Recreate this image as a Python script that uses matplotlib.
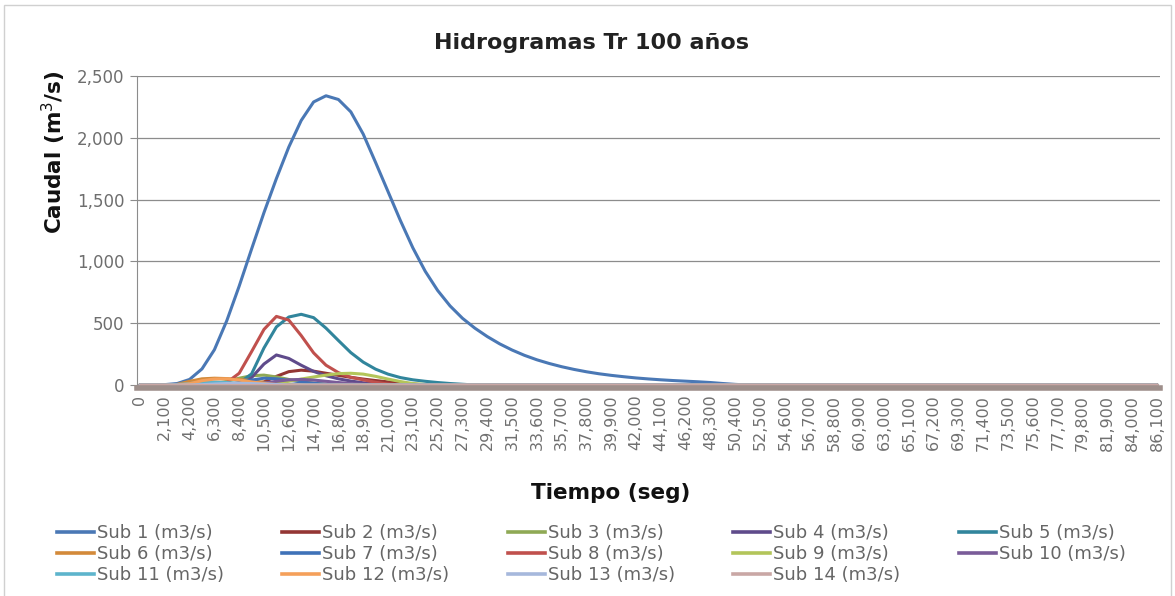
import numpy as np
import matplotlib
matplotlib.use("Agg")
import matplotlib.pyplot as plt
from matplotlib.lines import Line2D
from matplotlib.patches import Rectangle

plt.rcParams['font.family'] = ['DejaVu Sans']

# time step of the hydrographs (s), axis runs to 86,100 s
dt = 1050
t_end = 86100
tiempo = np.arange(0, t_end + 1, dt)
tick_vals = np.arange(0, t_end + 1, 2100)

# caudales (m3/s), starting at t = 0, every 1050 s
sub1 = [0, 0, 3, 12, 45, 130, 285, 520, 800, 1100,
        1395, 1670, 1925, 2140, 2290, 2340, 2310, 2210, 2030, 1800,
        1565, 1330, 1110, 920, 765, 640, 540, 460, 392, 333,
        283, 240, 204, 174, 148, 126, 107, 91, 78, 67,
        57, 49, 42, 36, 31, 26, 20, 12, 5, 0]
sub2 = [0, 0, 0, 0, 0, 0, 0, 0, 0, 5, 25, 70, 108, 120, 112, 95, 78, 62,
        48, 36, 25, 15, 8, 0]
sub3 = [0, 0, 0, 0, 0, 0, 10, 30, 55, 75, 80, 65, 45, 28, 15, 6, 0]
sub4 = [0, 0, 0, 0, 0, 0, 0, 0, 10, 60, 170, 243, 215, 160, 110, 75, 50,
        32, 18, 8, 0]
sub5 = [0, 0, 0, 0, 0, 0, 0, 0, 15, 90, 300, 470, 550, 572, 545, 460, 360,
        262, 185, 128, 88, 60, 42, 30, 20, 12, 6, 0]
sub6 = [0, 0, 0, 5, 30, 50, 55, 52, 45, 35, 22, 12, 5, 0]
sub7 = [0, 0, 0, 0, 0, 0, 0, 5, 20, 40, 55, 50, 38, 25, 14, 6, 0]
sub8 = [0, 0, 0, 0, 0, 0, 0, 20, 95, 270, 450, 555, 525, 400, 260, 160,
        100, 62, 42, 22, 8, 0]
sub9 = [0, 0, 0, 0, 0, 0, 0, 0, 0, 0, 5, 15, 30, 48, 65, 80, 92, 95, 88,
        70, 48, 28, 12, 4, 0]
sub10 = [0, 0, 0, 0, 0, 0, 0, 0, 0, 5, 15, 30, 42, 45, 40, 30, 20, 12, 5, 0]
sub11 = [0, 0, 0, 3, 12, 22, 25, 20, 12, 5, 0]
sub12 = [0, 0, 0, 0, 10, 35, 48, 50, 40, 25, 12, 4, 0]
sub13 = [0, 0, 0, 0, 0, 3, 8, 12, 14, 12, 8, 4, 0]
sub14 = [0]

series = [sub1, sub2, sub3, sub4, sub5, sub6, sub7, sub8, sub9, sub10,
          sub11, sub12, sub13, sub14]
labels = ["Sub %d (m3/s)" % (i + 1) for i in range(14)]
colors = ["#4a78b5", "#943634", "#8fa955", "#5f4b8b", "#31859c", "#d38a3a",
          "#3f72b8", "#c0504d", "#b3c55a", "#7a5c99", "#5db4cc", "#f5a05a",
          "#a6b8dc", "#c9a7a5"]


def pad(vals):
    # rest of the record is zero flow
    return np.array(vals + [0] * (len(tiempo) - len(vals)), dtype=float)


fig = plt.figure(figsize=(11.75, 5.96), dpi=100)
fig.patches.append(Rectangle((4 / 1175, -0.01), 1167 / 1175, 1 - 5 / 596 + 0.01,
                             transform=fig.transFigure, fill=False,
                             edgecolor="#d0d0d0", lw=1))

ax = fig.add_axes([137 / 1175, 1 - 385 / 596, 1023 / 1175, 309 / 596])
for s in ["top", "right"]:
    ax.spines[s].set_visible(False)
ax.spines["left"].set_color("#8c8c8c")
# the zero flow lines pile up into a thick brown-grey band
ax.spines["bottom"].set_color("#9e8f8b")
ax.spines["bottom"].set_linewidth(4)
ax.spines["bottom"].set_position(("outward", 2))

for vals, lab, col in zip(series, labels, colors):
    ax.plot(tiempo, pad(vals), color=col, lw=2.2, label=lab,
            clip_on=False, solid_joinstyle="round", solid_capstyle="round")

ax.set_xlim(-250, t_end + 250)
ax.set_ylim(0, 2500)
ax.set_yticks(np.arange(0, 2501, 500))
ax.set_yticklabels([f"{v:,}" for v in range(0, 2501, 500)])
ax.set_xticks(tick_vals)
ax.set_xticklabels([f"{v:,}" for v in tick_vals])

ax.grid(axis="y", color="#8c8c8c", lw=0.9)
ax.set_axisbelow(True)
ax.tick_params(axis="y", colors="#8c8c8c", labelcolor="#6e6e6e",
               labelsize=12, length=5, pad=4)
ax.tick_params(axis="x", colors="#8c8c8c", labelcolor="#707070",
               labelsize=11.5, length=0, pad=5, labelrotation=90)

fig.text(592 / 1175, 1 - 43 / 596, "Hidrogramas Tr 100 años", ha="center",
         va="center", fontsize=16, fontweight="bold", color="#222222")
fig.text(54 / 1175, 1 - 152 / 596, "Caudal (m$^3$/s)", ha="center",
         va="center", rotation=90, fontsize=15.5, fontweight="bold",
         color="#111111")
fig.text(611 / 1175, 1 - 493 / 596, "Tiempo (seg)", ha="center", va="center",
         fontsize=15.5, fontweight="bold", color="#111111")

# Excel fills the legend row by row
order = [0, 5, 10, 1, 6, 11, 2, 7, 12, 3, 8, 13, 4, 9]
leg_h = [Line2D([], [], color=colors[i], lw=2.6) for i in order]
fig.legend(leg_h, [labels[i] for i in order], ncol=5, loc="upper left",
           bbox_to_anchor=(57 / 1175, 1 - 524 / 596), frameon=False,
           fontsize=13, handlelength=2.05, handletextpad=0.15,
           columnspacing=3.25, labelspacing=0.18, borderpad=0,
           borderaxespad=0, labelcolor="#666666")

fig.savefig("out.png", dpi=100)
